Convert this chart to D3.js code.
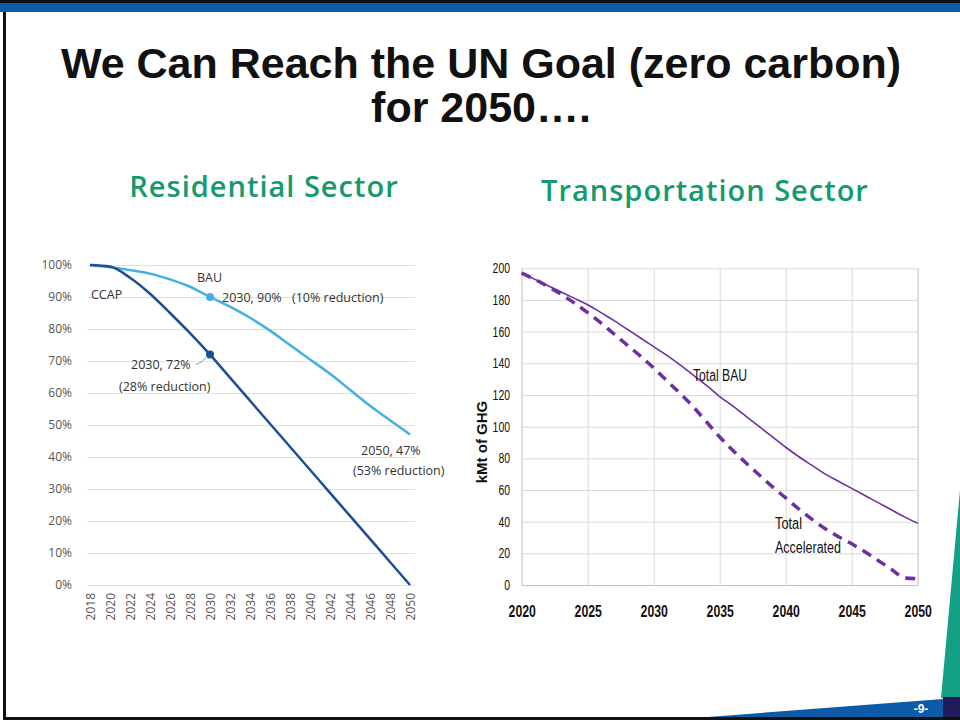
<!DOCTYPE html>
<html>
<head>
<meta charset="utf-8">
<script src="https://cdn.jsdelivr.net/npm/d3@7"></script>
<style>
  body { margin: 0; background: #fff; }
  svg { display: block; }
  .resi text { font-family: "Open Sans", "Noto Sans", sans-serif; }
  .trans text { font-family: "Liberation Sans Narrow", "Liberation Sans", Arial, sans-serif; }
</style>
</head>
<body>
<svg id="slide" width="960" height="723"></svg>
<script>
// residential sector, share of 2018 emissions
var resiYears = [2018, 2020, 2022, 2024, 2026, 2028, 2030, 2032, 2034, 2036, 2038, 2040, 2042, 2044, 2046, 2048, 2050];
var resiBau   = [1.00, 0.993, 0.984, 0.973, 0.955, 0.932, 0.90, 0.87, 0.835, 0.795, 0.75, 0.705, 0.66, 0.61, 0.56, 0.515, 0.47];
var resiCcap  = [1.00, 0.995, 0.96, 0.91, 0.85, 0.787, 0.72, 0.648, 0.576, 0.504, 0.432, 0.36, 0.288, 0.216, 0.144, 0.072, 0.00];
var resiYTicks = [0, 0.1, 0.2, 0.3, 0.4, 0.5, 0.6, 0.7, 0.8, 0.9, 1.0];

// transportation sector, kMt of GHG
var transYears = d3.range(2020, 2051);
var transBau = [197, 193, 189, 185, 181, 177, 172, 167, 161.5, 156, 150.5, 145, 139, 132.5, 126, 119,
                113, 106.5, 100, 93.5, 87, 81, 75.5, 70, 65.5, 61, 56.5, 52, 47.5, 43, 39];
var transAcc = [197, 193, 188.5, 183.5, 178, 172, 165.5, 158.5, 151.5, 144.5, 137, 129, 121, 112.5, 103, 93.5,
                85, 77, 69.5, 62, 55, 48, 41.5, 35.5, 30.5, 26, 21, 15.5, 10, 4.5, 4];
var transXTicks = [2020, 2025, 2030, 2035, 2040, 2045, 2050];
var transYTicks = [0, 20, 40, 60, 80, 100, 120, 140, 160, 180, 200];

var svg = d3.select('#slide');

// squeeze text so it looks like the condensed face of the original
function narrow(sel, perChar) {
    sel.attr('textLength', function () { return this.textContent.length * perChar; })
       .attr('lengthAdjust', 'spacingAndGlyphs');
}

/* slide frame and decoration */
function drawFrame() {
    svg.append('rect').attr('x', 0).attr('y', 0).attr('width', 960).attr('height', 3).attr('fill', '#0a0f1a');
    svg.append('rect').attr('x', 0).attr('y', 3).attr('width', 960).attr('height', 9).attr('fill', '#0d5aa7');
    svg.append('rect').attr('x', 3).attr('y', 12).attr('width', 3).attr('height', 708).attr('fill', '#111');
    svg.append('polygon').attr('points', '960,490 941,698 960,698').attr('fill', '#13a085');
    svg.append('polygon').attr('points', '695,718 943,699 943,718').attr('fill', '#0d5aa7');
    svg.append('rect').attr('x', 943).attr('y', 697).attr('width', 17).attr('height', 21).attr('fill', '#201c5c');
    svg.append('rect').attr('x', 3).attr('y', 717).attr('width', 957).attr('height', 3).attr('fill', '#111');
    svg.append('text').attr('x', 921).attr('y', 713).attr('text-anchor', 'middle')
        .attr('fill', '#fff').style('font', 'bold 12px "Liberation Sans", sans-serif').text('-9-');

    svg.append('text').attr('x', 481).attr('y', 78).attr('text-anchor', 'middle')
        .style('font', 'bold 43px "Liberation Sans", Arial, sans-serif').attr('fill', '#111')
        .text('We Can Reach the UN Goal (zero carbon)');
    svg.append('text').attr('x', 481).attr('y', 122).attr('text-anchor', 'middle')
        .style('font', 'bold 43px "Liberation Sans", Arial, sans-serif').attr('fill', '#111')
        .text('for 2050….');

    svg.append('text').attr('x', 264).attr('y', 197).attr('text-anchor', 'middle')
        .style('font', '600 29px "Open Sans", sans-serif').style('letter-spacing', '1px').attr('fill', '#149a6e')
        .text('Residential Sector');
    svg.append('text').attr('x', 705).attr('y', 201).attr('text-anchor', 'middle')
        .style('font', '600 29px "Open Sans", sans-serif').style('letter-spacing', '1px').attr('fill', '#149a6e')
        .text('Transportation Sector');
}

function drawResidential() {
    var g = svg.append('g').attr('class', 'resi');
    var x = d3.scaleLinear().domain([2018, 2050]).range([90, 410]);
    var y = d3.scaleLinear().domain([0, 1]).range([585, 265]);

    var grid = g.append('g').attr('transform', 'translate(87,0)')
        .call(d3.axisLeft(y).tickValues(resiYTicks).tickSize(-328).tickFormat(''));
    grid.select('.domain').remove();
    grid.selectAll('line').attr('stroke', '#e0e0e0');

    var yAxis = g.append('g').attr('transform', 'translate(76,0)')
        .call(d3.axisLeft(y).tickValues(resiYTicks).tickSize(0).tickPadding(4).tickFormat(d3.format('.0%')));
    yAxis.select('.domain').remove();
    yAxis.selectAll('text').attr('fill', '#555').style('font-size', '12px');

    var xAxis = g.append('g').attr('transform', 'translate(0,585)')
        .call(d3.axisBottom(x).tickValues(resiYears).tickSize(0).tickFormat(d3.format('d')));
    xAxis.select('.domain').remove();
    xAxis.selectAll('text').attr('fill', '#555').style('font-size', '12px')
        .attr('transform', 'rotate(-90)').attr('text-anchor', 'end')
        .attr('x', -8).attr('y', 0).attr('dy', '0.35em');

    var line = d3.line().x(function (d) { return x(d[0]); }).y(function (d) { return y(d[1]); }).curve(d3.curveMonotoneX);

    g.append('path').datum(d3.zip(resiYears, resiBau)).attr('d', line)
        .attr('fill', 'none').attr('stroke', '#45afe3').attr('stroke-width', 2.5);
    g.append('path').datum(d3.zip(resiYears, resiCcap)).attr('d', line)
        .attr('fill', 'none').attr('stroke', '#1b4f98').attr('stroke-width', 2.5);

    var i2030 = resiYears.indexOf(2030);
    g.append('circle').attr('cx', x(2030)).attr('cy', y(resiBau[i2030])).attr('r', 4).attr('fill', '#45afe3');
    g.append('circle').attr('cx', x(2030)).attr('cy', y(resiCcap[i2030])).attr('r', 4).attr('fill', '#1b4f98');

    // leader from the CCAP label to its point
    g.append('path')
        .attr('d', 'M' + (x(2030) - 14) + ',' + (y(resiCcap[i2030]) + 10) +
                   'q6,-2 10,-7')
        .attr('fill', 'none').attr('stroke', '#999').attr('stroke-width', 1);

    var labels = [
        { t: 'BAU', x: 197, y: 282 },
        { t: 'CCAP', x: 91, y: 299 },
        { t: '2030, 90%', x: 222, y: 302 },
        { t: '(10% reduction)', x: 292, y: 302 },
        { t: '2030, 72%', x: 131, y: 369 },
        { t: '(28% reduction)', x: 119, y: 391 },
        { t: '2050, 47%', x: 361, y: 455 },
        { t: '(53% reduction)', x: 353, y: 475 }
    ];
    g.selectAll('.lbl').data(labels).enter().append('text')
        .attr('class', 'lbl').attr('x', function (d) { return d.x; }).attr('y', function (d) { return d.y; })
        .attr('fill', '#333').style('font-size', '12.5px').text(function (d) { return d.t; });
}

function drawTransportation() {
    var g = svg.append('g').attr('class', 'trans');
    var x = d3.scaleLinear().domain([2020, 2050]).range([521.7, 917.7]);
    var y = d3.scaleLinear().domain([0, 200]).range([585, 268.3]);

    var hGrid = g.append('g').attr('transform', 'translate(521.7,0)')
        .call(d3.axisLeft(y).tickValues(transYTicks).tickSize(-396).tickFormat(''));
    hGrid.select('.domain').remove();
    hGrid.selectAll('line').attr('stroke', '#d9d9d9');

    var vGrid = g.append('g').attr('transform', 'translate(0,585)')
        .call(d3.axisBottom(x).tickValues(transXTicks).tickSize(-316.7).tickFormat(''));
    vGrid.select('.domain').attr('stroke', '#bfbfbf');
    vGrid.selectAll('line').attr('stroke', '#d9d9d9');

    var yAxis = g.append('g').attr('transform', 'translate(510,0)')
        .call(d3.axisLeft(y).tickValues(transYTicks).tickSize(0).tickPadding(0));
    yAxis.select('.domain').remove();
    yAxis.selectAll('text').attr('fill', '#111').style('font-size', '14px').call(narrow, 5.8);

    var xAxis = g.append('g').attr('transform', 'translate(0,585)')
        .call(d3.axisBottom(x).tickValues(transXTicks).tickSize(0).tickPadding(21).tickFormat(d3.format('d')));
    xAxis.select('.domain').remove();
    xAxis.selectAll('text').attr('fill', '#111').style('font-size', '16px').style('font-weight', 'bold')
        .call(narrow, 6.8);

    g.append('text').attr('transform', 'translate(487,442) rotate(-90)').attr('text-anchor', 'middle')
        .style('font', 'bold 15px "Liberation Sans", Arial, sans-serif').attr('fill', '#111')
        .text('kMt of GHG');

    var line = d3.line().x(function (d) { return x(d[0]); }).y(function (d) { return y(d[1]); }).curve(d3.curveMonotoneX);

    g.append('path').datum(d3.zip(transYears, transBau)).attr('d', line)
        .attr('fill', 'none').attr('stroke', '#6e2fa2').attr('stroke-width', 1.6);
    g.append('path').datum(d3.zip(transYears, transAcc)).attr('d', line)
        .attr('fill', 'none').attr('stroke', '#6e2fa2').attr('stroke-width', 3.5)
        .attr('stroke-dasharray', '10,7');

    g.append('text').attr('x', 693).attr('y', 381).attr('fill', '#111').style('font-size', '16px')
        .text('Total BAU').attr('textLength', 54).attr('lengthAdjust', 'spacingAndGlyphs');
    g.append('text').attr('x', 775).attr('y', 529).attr('fill', '#111').style('font-size', '16px')
        .text('Total').attr('textLength', 27).attr('lengthAdjust', 'spacingAndGlyphs');
    g.append('text').attr('x', 775).attr('y', 553).attr('fill', '#111').style('font-size', '16px')
        .text('Accelerated').attr('textLength', 66).attr('lengthAdjust', 'spacingAndGlyphs');
}

drawFrame();
drawResidential();
drawTransportation();
</script>
</body>
</html>
